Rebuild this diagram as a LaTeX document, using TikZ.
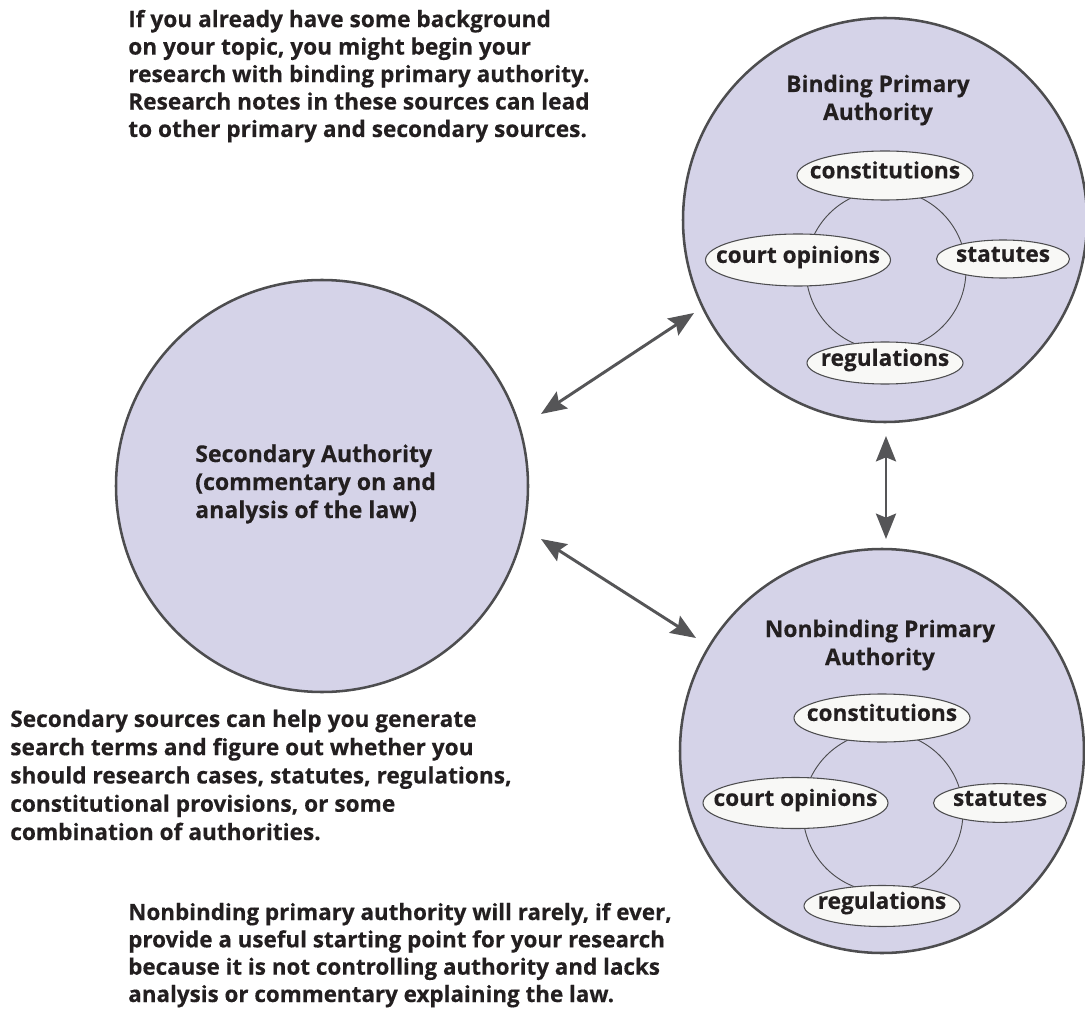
\documentclass[tikz,border=0pt]{standalone}
\usepackage{fontspec}
\newfontfamily\lawfont{Open Sans}[BoldFeatures={FakeBold=0.3}]
\usetikzlibrary{arrows.meta,shapes.geometric}

\definecolor{lav}{HTML}{D5D3E8}
\definecolor{rim}{HTML}{4D4D4F}
\definecolor{ink}{HTML}{231F20}
\definecolor{pill}{HTML}{F8F8F6}
\definecolor{arrowgray}{HTML}{555557}

% zero-width label so the ellipse keeps exactly its given size
\newcommand{\pilltext}[1]{\makebox[0pt][c]{#1}}

\begin{document}
\begin{tikzpicture}[x=0.75pt,y=-0.75pt,
  every node/.style={text=ink},
  bigcirc/.style={circle, draw=rim, line width=1.9pt, fill=lav, inner sep=0pt, minimum size=303pt},
  ring/.style={circle, draw=rim, line width=0.7pt, inner sep=0pt, minimum size=120pt},
  pillnode/.style={ellipse, draw=rim, line width=0.8pt, fill=pill, inner sep=0pt,
    text height=1.25ex, text depth=0.25ex,
    font=\lawfont\bfseries\fontsize{17}{20}\selectfont},
  title/.style={anchor=base, align=center, inner sep=0pt,
    font=\lawfont\bfseries\fontsize{17.1}{21}\selectfont},
  note/.style={anchor=base west, align=left, inner sep=0pt,
    font=\lawfont\bfseries\fontsize{17}{20.6}\selectfont},
  dblarrow/.style={{Stealth[length=19pt,width=15pt,inset=3pt]}-{Stealth[length=19pt,width=15pt,inset=3pt]},
    line width=2.2pt, draw=arrowgray},
]
\useasboundingbox (0,0) rectangle (1085,1012);

% secondary authority
\node[bigcirc, minimum size=309pt] (sec) at (322,486) {};
\node[note, font=\lawfont\bfseries\fontsize{17.3}{21}\selectfont] (sectext) at (195,518)
  {Secondary Authority\\(commentary on and\\analysis of the law)};

% binding primary authority
\node[bigcirc] (bind) at (885,220) {};
\node[ring] (bring) at (886,270) {};
\node[pillnode, minimum width=132pt, minimum height=36.75pt] (bcon) at (885,175.5) {\pilltext{constitutions}};
\node[pillnode, minimum width=138.75pt, minimum height=39pt] (bcourt) at (798,260) {\pilltext{court opinions}};
\node[pillnode, minimum width=99.75pt, minimum height=28.5pt] (bstat) at (1003,259) {\pilltext{statutes}};
\node[pillnode, minimum width=117pt, minimum height=31.5pt] (breg) at (885,363) {\pilltext{regulations}};
\node[title] (btitle) at (878,120) {Binding Primary\\Authority};

% nonbinding primary authority
\node[bigcirc] (nonb) at (882,751) {};
\node[ring] (nring) at (883,812) {};
\node[pillnode, minimum width=132pt, minimum height=36pt] (ncon) at (882,718) {\pilltext{constitutions}};
\node[pillnode, minimum width=138.75pt, minimum height=38.25pt] (ncourt) at (795.5,803) {\pilltext{court opinions}};
\node[pillnode, minimum width=99.75pt, minimum height=29pt] (nstat) at (1000,803) {\pilltext{statutes}};
\node[pillnode, minimum width=117pt, minimum height=30.75pt] (nreg) at (882,906) {\pilltext{regulations}};
\node[title] (ntitle) at (880,665) {Nonbinding Primary\\Authority};

% arrow ends
\coordinate (secup) at (541,414);
\coordinate (bindlow) at (694,313);
\coordinate (secdown) at (541,539);
\coordinate (nonbup) at (696,638);
\coordinate (bindbot) at (886,436);
\coordinate (nonbtop) at (886,539);

\draw[dblarrow] (secup) -- (bindlow);
\draw[dblarrow] (secdown) -- (nonbup);
\draw[dblarrow] (bindbot) -- (nonbtop);

% explanatory notes (anchored at the baseline of their last line)
\node[note] (topnote) at (128,137)
  {If you already have some background\\on your topic, you might begin your\\research with binding primary authority.\\Research notes in these sources can lead\\to other primary and secondary sources.};
\node[note, font=\lawfont\bfseries\fontsize{17}{21.2}\selectfont] (midnote) at (10,840)
  {Secondary sources can help you generate\\search terms and figure out whether you\\should research cases, statutes, regulations,\\constitutional provisions, or some\\combination of authorities.};
\node[note, font=\lawfont\bfseries\fontsize{16.8}{20.5}\selectfont] (lownote) at (128,1002)
  {Nonbinding primary authority will rarely, if ever,\\provide a useful starting point for your research\\because it is not controlling authority and lacks\\analysis or commentary explaining the law.};
\end{tikzpicture}
\end{document}
